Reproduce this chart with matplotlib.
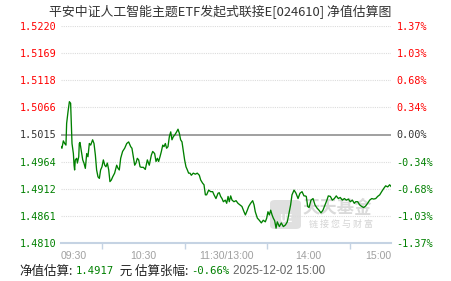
import numpy as np
import matplotlib
matplotlib.use("Agg")
import matplotlib.pyplot as plt
from matplotlib.offsetbox import TextArea, HPacker, AnchoredOffsetbox
from matplotlib.patches import FancyBboxPatch

plt.rcParams['font.family'] = ['Noto Sans CJK SC', 'DejaVu Sans']

title = "平安中证人工智能主题ETF发起式联接E[024610] 净值估算图"

# 分钟数(从09:30起,午休不计) 与 估算净值
minutes = [0.0, 0.7, 1.7, 2.7, 3.6, 4.1, 5.1, 6.1, 7.0, 7.5, 8.0, 9.0, 9.5, 9.9,
           10.4, 11.4, 11.9, 12.9, 13.3, 13.8, 14.8, 15.8, 16.7, 17.7, 18.7, 19.6,
           20.6, 21.6, 23.0, 24.0, 25.0, 25.9, 26.9, 27.9, 28.8, 29.8, 30.8, 31.8,
           32.7, 33.7, 34.7, 35.6, 36.6, 37.6, 39.0, 40.5, 41.5, 42.4, 43.4, 44.8,
           46.3, 47.8, 49.2, 50.7, 51.6, 52.6, 53.6, 54.5, 55.5, 56.5, 57.5, 58.4,
           59.9, 61.3, 62.8, 64.2, 65.7, 66.7, 68.1, 69.1, 70.1, 71.0, 72.0, 73.0,
           74.0, 74.9, 75.9, 76.8, 77.8, 78.8, 79.8, 80.7, 81.7, 82.7, 84.1, 85.1,
           86.1, 87.0, 88.0, 89.0, 89.9, 90.9, 91.9, 92.8, 93.8, 94.8, 96.2, 97.7,
           99.1, 100.6, 101.6, 103.0, 104.0, 105.0, 105.9, 107.4, 108.8, 110.3,
           111.3, 112.7, 114.2, 115.1, 116.1, 117.1, 118.1, 119.5, 120.5, 121.5,
           122.4, 123.4, 124.4, 125.8, 127.3, 128.7, 130.2, 131.6, 133.1, 134.1,
           135.5, 136.5, 137.9, 139.4, 140.4, 141.3, 142.8, 144.2, 145.7, 147.1,
           148.6, 149.6, 150.5, 151.5, 152.5, 153.5, 154.4, 155.4, 156.4, 157.3,
           158.8, 160.2, 161.7, 163.2, 164.6, 165.6, 167.0, 168.0, 169.5, 170.9,
           172.4, 173.8, 175.3, 176.7, 177.5, 178.4, 179.4, 180.4, 181.8, 183.3,
           184.7, 186.2, 187.6, 189.1, 190.5, 192.0, 193.4, 194.4, 195.9, 197.3,
           198.8, 200.2, 201.7, 203.1, 204.6, 206.1, 207.5, 209.0, 210.4, 211.9,
           213.3, 214.3, 215.8, 217.2, 218.7, 220.1, 221.6, 223.0, 224.5, 226.0,
           227.4, 228.9, 230.3, 231.8, 233.2, 234.7, 236.1, 237.6, 239.0, 240.0]
nav = [1.4992, 1.4989, 1.5003, 1.4998, 1.4995, 1.5036, 1.5058, 1.5077, 1.5074, 1.5036,
       1.4998, 1.4979, 1.4957, 1.4948, 1.4967, 1.4970, 1.4961, 1.4973, 1.4998, 1.5000,
       1.4983, 1.4967, 1.4961, 1.4951, 1.4979, 1.4973, 1.4998, 1.4995, 1.5005, 1.4998,
       1.4976, 1.4948, 1.4935, 1.4932, 1.4948, 1.4954, 1.4967, 1.4957, 1.4954, 1.4961,
       1.4948, 1.4926, 1.4929, 1.4935, 1.4942, 1.4957, 1.4951, 1.4948, 1.4970, 1.4983,
       1.4989, 1.4998, 1.5001, 1.4992, 1.4989, 1.4973, 1.4957, 1.4961, 1.4970, 1.4967,
       1.4954, 1.4953, 1.4953, 1.4949, 1.4967, 1.4957, 1.4976, 1.4983, 1.4979, 1.4964,
       1.4970, 1.4964, 1.4973, 1.4983, 1.4995, 1.4992, 1.4998, 1.4989, 1.4992, 1.5011,
       1.5020, 1.5005, 1.5011, 1.5014, 1.5020, 1.5025, 1.5017, 1.5005, 1.5001, 1.4983,
       1.4967, 1.4954, 1.4948, 1.4942, 1.4942, 1.4938, 1.4942, 1.4940, 1.4942, 1.4938,
       1.4929, 1.4923, 1.4920, 1.4901, 1.4901, 1.4910, 1.4907, 1.4907, 1.4901, 1.4894,
       1.4904, 1.4905, 1.4898, 1.4894, 1.4888, 1.4891, 1.4885, 1.4898, 1.4888, 1.4899,
       1.4891, 1.4888, 1.4890, 1.4885, 1.4882, 1.4879, 1.4869, 1.4863, 1.4872, 1.4879,
       1.4885, 1.4890, 1.4882, 1.4869, 1.4857, 1.4853, 1.4848, 1.4853, 1.4850, 1.4857,
       1.4869, 1.4863, 1.4872, 1.4863, 1.4857, 1.4852, 1.4838, 1.4850, 1.4841, 1.4848,
       1.4841, 1.4844, 1.4850, 1.4863, 1.4882, 1.4901, 1.4910, 1.4904, 1.4894, 1.4904,
       1.4907, 1.4899, 1.4899, 1.4898, 1.4879, 1.4877, 1.4891, 1.4894, 1.4882, 1.4876,
       1.4872, 1.4867, 1.4872, 1.4882, 1.4891, 1.4899, 1.4898, 1.4891, 1.4894, 1.4899,
       1.4894, 1.4896, 1.4891, 1.4894, 1.4891, 1.4893, 1.4888, 1.4891, 1.4885, 1.4888,
       1.4888, 1.4882, 1.4879, 1.4877, 1.4880, 1.4885, 1.4891, 1.4894, 1.4893, 1.4894,
       1.4898, 1.4901, 1.4907, 1.4913, 1.4918, 1.4916, 1.4920, 1.4917]

base_nav = 1.5015
y_labels = ["1.4810", "1.4861", "1.4912", "1.4964", "1.5015",
            "1.5066", "1.5118", "1.5169", "1.5220"]
pct_labels = ["-1.37%", "-1.03%", "-0.68%", "-0.34%", "0.00%",
              "0.34%", "0.68%", "1.03%", "1.37%"]
x_label_pos = [0, 60, 120, 180, 240]
x_labels = ["09:30", "10:30", "11:30/13:00", "14:00", "15:00"]
x_mark_pos = [0, 30, 90, 120, 150, 210, 240]

est_nav = "1.4917"
est_pct = "-0.66%"
est_time = "2025-12-02 15:00"

GREEN = "#008000"
RED = "#ff0000"
MID = "#333333"

fig = plt.figure(figsize=(4.51, 2.81), dpi=100)
ax = fig.add_axes([61 / 451, 1 - 243 / 281, 330 / 451, 217 / 281])

y_pos = np.linspace(1.4810, 1.5220, 9)
ax.set_xlim(0, 240)
ax.set_ylim(y_pos[0], y_pos[-1])

# 网格线
for i, y in enumerate(y_pos):
    if i == 0:
        continue
    if i == 4:
        ax.axhline(y, color="#999999", lw=1.3, zorder=1)
    else:
        ax.axhline(y, color="#dcdcdc", lw=0.8, ls=(0, (1, 1)), zorder=1)

# 水印 (画在曲线下面)
fig.patches.append(FancyBboxPatch((270 / 451, 1 - 229 / 281), 31 / 451, 29 / 281,
                                  boxstyle="round,pad=0,rounding_size=0.012",
                                  transform=fig.transFigure, fc="#e0e0e0",
                                  ec="none", zorder=-2))
fig.text(286 / 451, 1 - 219 / 281, "UE", color="white", fontsize=7,
         fontweight="bold", ha="center", va="center", zorder=-1)
fig.text(337 / 451, 1 - 208 / 281, "天天基金", color="#dadada", fontsize=12.5,
         fontweight="bold", ha="center", va="center", zorder=-1)
fig.text(341 / 451, 1 - 224 / 281, "链 接 您 与 财 富", color="#d4d4d4",
         fontsize=6.5, ha="center", va="center", zorder=-1)

ax.patch.set_alpha(0)
ax.plot(minutes, nav, color=GREEN, lw=0.95, zorder=3)

for s in ["top", "left", "right"]:
    ax.spines[s].set_visible(False)
ax.spines["bottom"].set_color("#c5d3e3")
ax.spines["bottom"].set_linewidth(1.5)

ax.set_yticks(y_pos)
ax.set_yticklabels(y_labels, family="DejaVu Sans Mono", fontsize=7.3)
ax.tick_params(axis="y", length=0, pad=3)
lab_colors = [GREEN] * 4 + [MID] + [RED] * 4
for t, c in zip(ax.get_yticklabels(), lab_colors):
    t.set_color(c)

ax.set_xticks(x_label_pos)
ax.set_xticklabels(x_labels, family="Liberation Sans", fontsize=7.6, color="#a0a0a0")
ax.set_xticks(x_mark_pos, minor=True)
ax.tick_params(axis="x", which="major", length=0, pad=6)
ax.tick_params(axis="x", which="minor", length=4, width=1, color="#c5d3e3")
xt = ax.get_xticklabels()
xt[0].set_ha("left")
xt[-1].set_ha("right")

ax2 = ax.twinx()
ax2.set_ylim(ax.get_ylim())
ax2.set_yticks(y_pos)
ax2.set_yticklabels(pct_labels, family="DejaVu Sans Mono", fontsize=7.3)
ax2.tick_params(axis="y", length=0, pad=4)
for s in ax2.spines.values():
    s.set_visible(False)
for t, c in zip(ax2.get_yticklabels(), lab_colors):
    t.set_color(c)

fig.text(220 / 451, 1 - 12 / 281, title, color="#333333", fontsize=9.3,
         ha="center", va="center")

# 底部说明
cjk = ['Noto Sans CJK SC', 'DejaVu Sans']
parts = [
    TextArea("净值估算:", textprops=dict(color="#222222", fontsize=9, family=cjk)),
    TextArea(est_nav, textprops=dict(color=GREEN, fontsize=7.6, family="DejaVu Sans Mono")),
    TextArea(" 元 估算张幅:", textprops=dict(color="#222222", fontsize=9, family=cjk)),
    TextArea(est_pct, textprops=dict(color=GREEN, fontsize=7.6, family="DejaVu Sans Mono")),
    TextArea(est_time, textprops=dict(color="#666666", fontsize=8.4, family="Liberation Sans")),
]
box = HPacker(children=parts, align="center", pad=0, sep=2.3)
anchored = AnchoredOffsetbox(loc="center left", child=box, pad=0, frameon=False,
                             bbox_to_anchor=(19 / 451, 1 - 271 / 281),
                             bbox_transform=fig.transFigure, borderpad=0)
fig.add_artist(anchored)

fig.savefig("out.png", dpi=100)
